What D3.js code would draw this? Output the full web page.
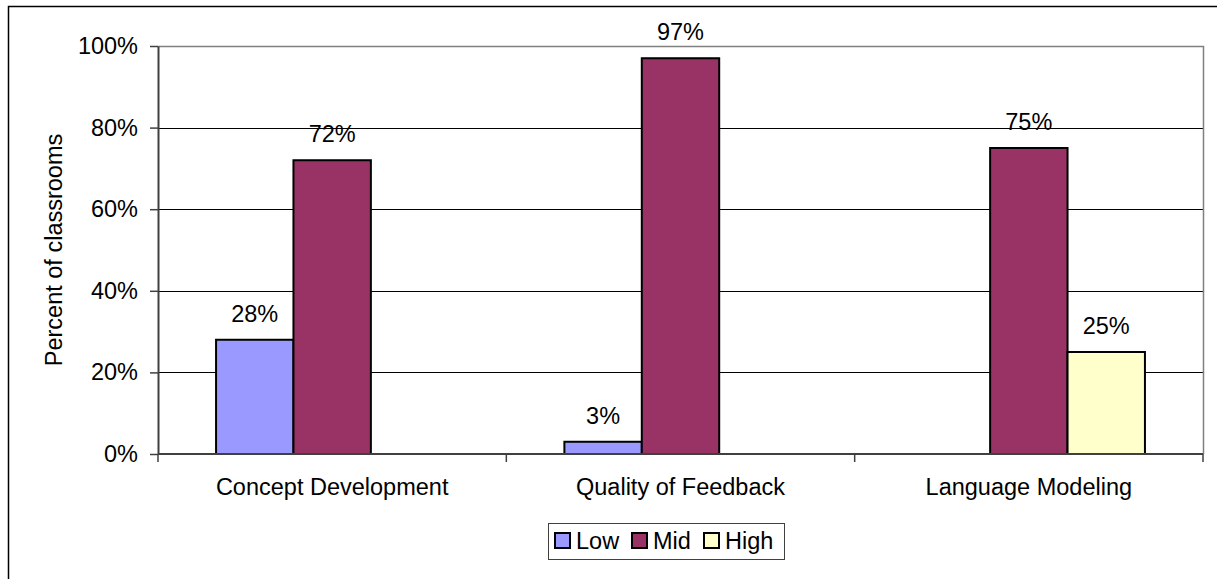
<!DOCTYPE html>
<html>
<head>
<meta charset="utf-8">
<script src="https://cdn.jsdelivr.net/npm/d3@7"></script>
<style>
  html, body { margin: 0; padding: 0; background: #fff; }
  svg { display: block; }
  text { font-family: Arial, "Liberation Sans", sans-serif; fill: #000; }
</style>
</head>
<body>
<svg id="chart"></svg>
<script>
// chart values
var categories = ["Concept Development", "Quality of Feedback", "Language Modeling"];
var seriesNames = ["Low", "Mid", "High"];
var lowValues = [0.28, 0.03, null];
var midValues = [0.72, 0.97, 0.75];
var highValues = [null, null, 0.25];
var yTicks = [0, 0.2, 0.4, 0.6, 0.8, 1.0];
var seriesColors = ["#9999FF", "#993366", "#FFFFCC"];

var frameWidth = 1217;
var frameHeight = 579;
var plotLeft = 158, plotRight = 1203, plotTop = 46, plotBottom = 454;
var fontSize = 23.5;

var svg = d3.select("#chart")
    .attr("width", frameWidth)
    .attr("height", frameHeight);

// outer chart border (bottom edge runs off the picture)
svg.append("rect")
    .attr("x", 8.5).attr("y", 6.5)
    .attr("width", 1210).attr("height", 600)
    .attr("fill", "none")
    .attr("stroke", "#000")
    .attr("stroke-width", 1.5);

var x = d3.scaleBand().domain(categories).range([plotLeft, plotRight]);
var xs = d3.scaleBand().domain(seriesNames).range([0, x.bandwidth()])
    .paddingInner(0).paddingOuter(0.75);
var y = d3.scaleLinear().domain([0, 1]).range([plotBottom, plotTop]);

// gridlines
svg.append("g")
  .selectAll("line")
  .data(yTicks.filter(function(d) { return d > 0 && d < 1; }))
  .enter().append("line")
    .attr("x1", plotLeft).attr("x2", plotRight)
    .attr("y1", function(d) { return Math.round(y(d)) + 0.5; })
    .attr("y2", function(d) { return Math.round(y(d)) + 0.5; })
    .attr("stroke", "#000")
    .attr("stroke-width", 1);

// plot area frame top/right (gray)
svg.append("path")
    .attr("d", "M" + plotLeft + "," + (plotTop + 0.5) + "H" + (plotRight + 0.5) + "V" + plotBottom)
    .attr("fill", "none")
    .attr("stroke", "#808080")
    .attr("stroke-width", 1.5);

// bars
var table = [];
categories.forEach(function(c, i) {
  table.push({cat: c, series: "Low", value: lowValues[i]});
  table.push({cat: c, series: "Mid", value: midValues[i]});
  table.push({cat: c, series: "High", value: highValues[i]});
});
var bars = table.filter(function(d) { return d.value != null; });

svg.append("g")
  .selectAll("rect")
  .data(bars)
  .enter().append("rect")
    .attr("x", function(d) { return x(d.cat) + xs(d.series); })
    .attr("y", function(d) { return y(d.value); })
    .attr("width", xs.bandwidth())
    .attr("height", function(d) { return y(0) - y(d.value); })
    .attr("fill", function(d) { return seriesColors[seriesNames.indexOf(d.series)]; })
    .attr("stroke", "#000")
    .attr("stroke-width", 2);

// data labels
svg.append("g")
  .selectAll("text")
  .data(bars)
  .enter().append("text")
    .attr("x", function(d) { return x(d.cat) + xs(d.series) + xs.bandwidth() / 2; })
    .attr("y", function(d) { return y(d.value) - 18; })
    .attr("text-anchor", "middle")
    .style("font-size", fontSize + "px")
    .text(function(d) { return d3.format(".0%")(d.value); });

// y axis
var yAxis = svg.append("g")
    .attr("transform", "translate(" + plotLeft + ",0)")
    .call(d3.axisLeft(y).tickValues(yTicks).tickFormat(d3.format(".0%"))
      .tickSize(8).tickPadding(12).tickSizeOuter(0));
yAxis.select(".domain").attr("stroke", "#404040").attr("stroke-width", 2);
yAxis.selectAll(".tick line").attr("stroke", "#404040").attr("stroke-width", 1.5);
yAxis.selectAll("text")
    .style("font-size", fontSize + "px")
    .style("font-family", "Arial, 'Liberation Sans', sans-serif")
    .attr("fill", "#000");

// x axis line and boundary ticks
svg.append("line")
    .attr("x1", plotLeft).attr("x2", plotRight)
    .attr("y1", plotBottom).attr("y2", plotBottom)
    .attr("stroke", "#404040").attr("stroke-width", 2);
var bounds = categories.map(function(c) { return x(c); }).concat([x.range()[1]]);
svg.append("g")
  .selectAll("line")
  .data(bounds)
  .enter().append("line")
    .attr("x1", function(d) { return d; }).attr("x2", function(d) { return d; })
    .attr("y1", plotBottom).attr("y2", plotBottom + 8)
    .attr("stroke", "#404040").attr("stroke-width", 1.5);

// category labels
svg.append("g")
  .selectAll("text")
  .data(categories)
  .enter().append("text")
    .attr("x", function(d) { return x(d) + x.bandwidth() / 2; })
    .attr("y", 495)
    .attr("text-anchor", "middle")
    .style("font-size", fontSize + "px")
    .text(function(d) { return d; });

// y axis title
svg.append("text")
    .attr("transform", "translate(62," + ((plotTop + plotBottom) / 2) + ") rotate(-90)")
    .attr("text-anchor", "middle")
    .style("font-size", fontSize + "px")
    .text("Percent of classrooms");

// legend
var legend = svg.append("g");
legend.append("rect")
    .attr("x", 548.5).attr("y", 523.5)
    .attr("width", 236).attr("height", 36)
    .attr("fill", "#fff")
    .attr("stroke", "#404040")
    .attr("stroke-width", 1);
var legendX = [555, 632, 704];
var item = legend.selectAll("g.item")
  .data(seriesNames)
  .enter().append("g")
    .attr("class", "item")
    .attr("transform", function(d, i) { return "translate(" + legendX[i] + ",533)"; });
item.append("rect")
    .attr("width", 15).attr("height", 15)
    .attr("fill", function(d, i) { return seriesColors[i]; })
    .attr("stroke", "#000")
    .attr("stroke-width", 2);
item.append("text")
    .attr("x", 21)
    .attr("y", 16)
    .style("font-size", fontSize + "px")
    .text(function(d) { return d; });
</script>
</body>
</html>
